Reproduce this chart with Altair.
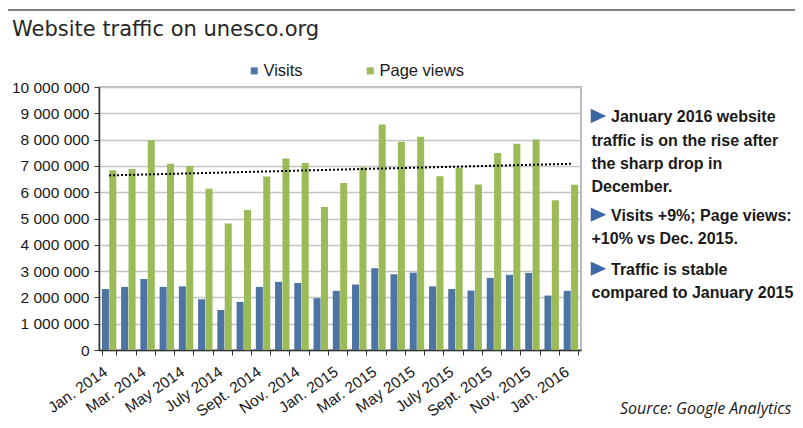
import altair as alt
import pandas as pd
import numpy as np

months = ["Jan. 2014", "Feb. 2014", "Mar. 2014", "Apr. 2014", "May 2014", "June 2014",
          "July 2014", "Aug. 2014", "Sept. 2014", "Oct. 2014", "Nov. 2014", "Dec. 2014",
          "Jan. 2015", "Feb. 2015", "Mar. 2015", "Apr. 2015", "May 2015", "June 2015",
          "July 2015", "Aug. 2015", "Sept. 2015", "Oct. 2015", "Nov. 2015", "Dec. 2015",
          "Jan. 2016"]
shown_labels = ["Jan. 2014", "Mar. 2014", "May 2014", "July 2014", "Sept. 2014", "Nov. 2014",
                "Jan. 2015", "Mar. 2015", "May 2015", "July 2015", "Sept. 2015", "Nov. 2015",
                "Jan. 2016"]
visits = [2320000, 2400000, 2700000, 2400000, 2420000, 1930000, 1520000, 1830000, 2400000,
          2590000, 2550000, 1970000, 2250000, 2490000, 3110000, 2880000, 2940000, 2420000,
          2320000, 2260000, 2740000, 2860000, 2930000, 2070000, 2250000]
page_views = [6830000, 6880000, 7980000, 7080000, 7000000, 6130000, 4810000, 5320000, 6600000,
              7280000, 7110000, 5440000, 6350000, 6950000, 8570000, 7920000, 8110000, 6610000,
              6930000, 6290000, 7490000, 7840000, 8000000, 5690000, 6280000]
series = ["Visits", "Page views"]
colors = ["#4e74a3", "#9bbb59"]
y_ticks = [0, 1000000, 2000000, 3000000, 4000000, 5000000, 6000000, 7000000, 8000000,
           9000000, 10000000]

title_text = "Website traffic on unesco.org"
notes_first = ["January 2016 website", "Visits +9%; Page views:", "Traffic is stable"]
notes_cont = [["traffic is on the rise after", "the sharp drop in", "December."],
              ["+10% vs Dec. 2015."],
              ["compared to January 2015"]]
source_text = "Source: Google Analytics"

rows = []
for m, v, p in zip(months, visits, page_views):
    rows.append({"month": m, "series": "Visits", "value": v})
    rows.append({"month": m, "series": "Page views", "value": p})
df = pd.DataFrame(rows)

idx = np.arange(len(months))
slope, intercept = np.polyfit(idx, np.array(page_views, dtype=float), 1)
trend_df = pd.DataFrame({"month": months, "value": intercept + slope * idx})

xscale = alt.Scale(domain=months, paddingInner=0.25, paddingOuter=0.15)
label_expr = "indexof(" + str(shown_labels).replace("'", '"') + ", datum.value) >= 0 ? datum.label : ''"

x_axis = alt.Axis(labelAngle=325, labelAlign="right", labelBaseline="top",
                  labelExpr=label_expr, labelOverlap=False, tickBand="extent",
                  tickSize=5, tickColor="#333333", domainColor="#333333",
                  domainWidth=1.5, labelPadding=9, labelOffset=-8, labelFontSize=15.5,
                  labelFont="Liberation Sans", labelColor="#1a1a1a", grid=False)
y_axis = alt.Axis(values=y_ticks, labelOverlap=False,
                  labelExpr="replace(format(datum.value, ','), regexp(',', 'g'), ' ')",
                  labelFontSize=15.5, labelFont="Liberation Sans", labelColor="#1a1a1a",
                  tickSize=5, tickColor="#333333", domainColor="#333333", domainWidth=1.5,
                  labelPadding=5, gridColor="#c4c4c4", gridWidth=1.5)
yscale = alt.Scale(domain=[0, 10000000], nice=False)

bars = alt.Chart(df).mark_bar().encode(
    x=alt.X("month:N", sort=months, scale=xscale, title=None, axis=x_axis),
    xOffset=alt.XOffset("series:N", sort=series, scale=alt.Scale(domain=series, paddingInner=0.05)),
    y=alt.Y("value:Q", scale=yscale, title=None, axis=y_axis),
    color=alt.Color("series:N", sort=series, scale=alt.Scale(domain=series, range=colors),
                    legend=alt.Legend(orient="none", legendX=147, legendY=-24.5, direction="horizontal",
                                      title=None, symbolType="square", symbolSize=49,
                                      symbolStrokeWidth=0, labelFontSize=16.5,
                                      labelFont="Liberation Sans", labelColor="#1a1a1a",
                                      columnPadding=59, labelOffset=1, padding=0)),
)

trend = alt.Chart(trend_df).mark_line(color="black", strokeDash=[2, 2], strokeWidth=2).encode(
    x=alt.X("month:N", sort=months, scale=xscale, title=None, axis=x_axis),
    y=alt.Y("value:Q", scale=yscale, title=None, axis=y_axis),
)

def text_layer(txt, x, y, **kw):
    return alt.Chart(pd.DataFrame({"t": [txt]})).mark_text(
        align="left", baseline="alphabetic", **kw
    ).encode(text="t:N", x=alt.value(x), y=alt.value(y))

layers = [bars, trend]

# outer frame
layers.append(alt.Chart(pd.DataFrame({"a": [0]})).mark_rect(
    fillOpacity=0, stroke="#000000", strokeWidth=1).encode(
    x=alt.value(-92), x2=alt.value(800), y=alt.value(-77), y2=alt.value(600)))

layers.append(text_layer(title_text, -87, -51, font="DejaVu Sans", fontSize=21, color="#262626"))

note_font = dict(font="Liberation Sans", fontSize=16, fontWeight="bold", color="#1a1a1a")
first_y = [35.3, 134, 188]
tri_path = "M-1,-0.92L1,0L-1,0.92Z"
for i, (first, cont) in enumerate(zip(notes_first, notes_cont)):
    y0 = first_y[i]
    layers.append(alt.Chart(pd.DataFrame({"a": [0]})).mark_point(
        shape=tri_path, filled=True, size=240, color="#3a68a6", opacity=1).encode(
        x=alt.value(499.5), y=alt.value(y0 - 6.3)))
    layers.append(text_layer(first, 512, y0, **note_font))
    for j, line in enumerate(cont):
        layers.append(text_layer(line, 492.5, y0 + 23.3 * (j + 1), **note_font))

layers.append(text_layer(source_text, 521, 327, font="Open Sans", fontSize=16,
                         fontStyle="italic", color="#1a1a1a"))

chart = alt.layer(*layers).properties(
    width=482, height=263,
    autosize=alt.AutoSizeParams(type="none"),
    padding={"left": 91, "top": 79, "right": 214, "bottom": 70},
    background="white",
).configure_view(stroke="#a6a6a6", strokeWidth=1.5)

chart.save("out.html", embed_options={"renderer": "svg", "actions": False})
